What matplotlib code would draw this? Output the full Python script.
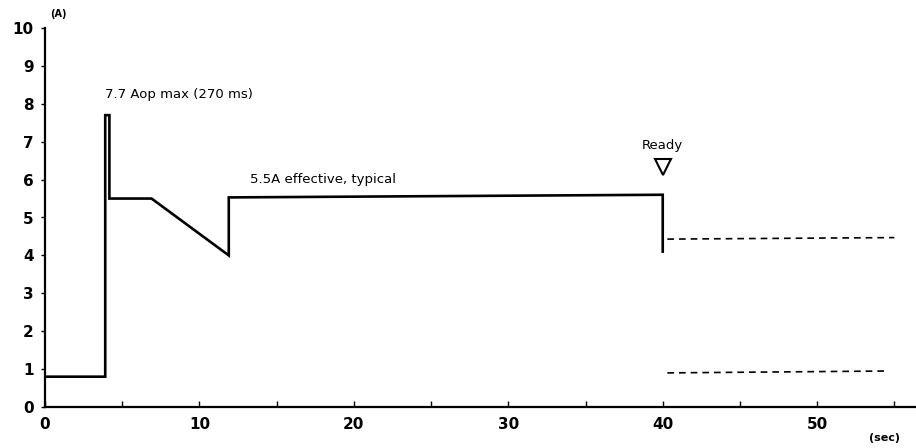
import matplotlib
matplotlib.use("Agg")
import matplotlib.pyplot as plt

# Data
t_main = [0, 3.9, 3.9, 4.17, 4.17, 6.9, 11.9, 11.9, 40.0, 40.0]
i_main = [0.8, 0.8, 7.7, 7.7, 5.5, 5.5, 4.0, 5.53, 5.6, 4.1]
t_dash_hi = [40.3, 55.0]
i_dash_hi = [4.43, 4.47]
t_dash_lo = [40.3, 54.6]
i_dash_lo = [0.9, 0.95]
x_major = [0, 10, 20, 30, 40, 50]
x_minor = [5, 15, 25, 35, 45, 55]
y_ticks = list(range(0, 11))
ready_t, ready_i = 40.0, 6.33

plt.rcParams['font.family'] = ['DejaVu Sans']
fig = plt.figure(figsize=(9.16, 4.48), dpi=100)
ax = fig.add_axes([45/916, 1-407/448, 1-45/916, (407-28)/448])

ax.plot(t_main, i_main, color='black', lw=1.9, solid_joinstyle='miter')
ax.plot(t_dash_hi, i_dash_hi, color='black', lw=1.2, ls=(0, (4, 3)))
ax.plot(t_dash_lo, i_dash_lo, color='black', lw=1.2, ls=(0, (4, 3)))

ax.plot([ready_t], [ready_i], marker='v', markersize=11, markerfacecolor='white',
        markeredgecolor='black', markeredgewidth=1.5, ls='none')
ax.text(ready_t, 6.9, 'Ready', ha='center', va='center', fontsize=9.5)
ax.text(3.9, 8.25, '7.7 Aop max (270 ms)', ha='left', va='center', fontsize=9.5)
ax.text(13.3, 6.0, '5.5A effective, typical', ha='left', va='center', fontsize=9.5)

ax.set_xlim(0, 56.4)
ax.set_ylim(0, 10)
ax.spines['top'].set_visible(False)
ax.spines['right'].set_visible(False)
ax.spines['left'].set_linewidth(1.6)
ax.spines['bottom'].set_linewidth(1.6)

ax.set_xticks(x_major)
ax.set_xticks(x_minor, minor=True)
ax.set_yticks(y_ticks)
ax.tick_params(axis='x', which='both', direction='in', length=4, width=1, labelsize=11, pad=7)
ax.tick_params(axis='y', direction='out', length=3, width=1, labelsize=11, pad=5)
for lab in ax.get_xticklabels() + ax.get_yticklabels():
    lab.set_fontweight('bold')

fig.text(50/916, 1-14/448, '(A)', fontsize=7, ha='left', va='center', fontweight='bold')
fig.text(885/916, 1-438/448, '(sec)', fontsize=8, ha='center', va='center', fontweight='bold')

fig.savefig('out.png', dpi=100)
